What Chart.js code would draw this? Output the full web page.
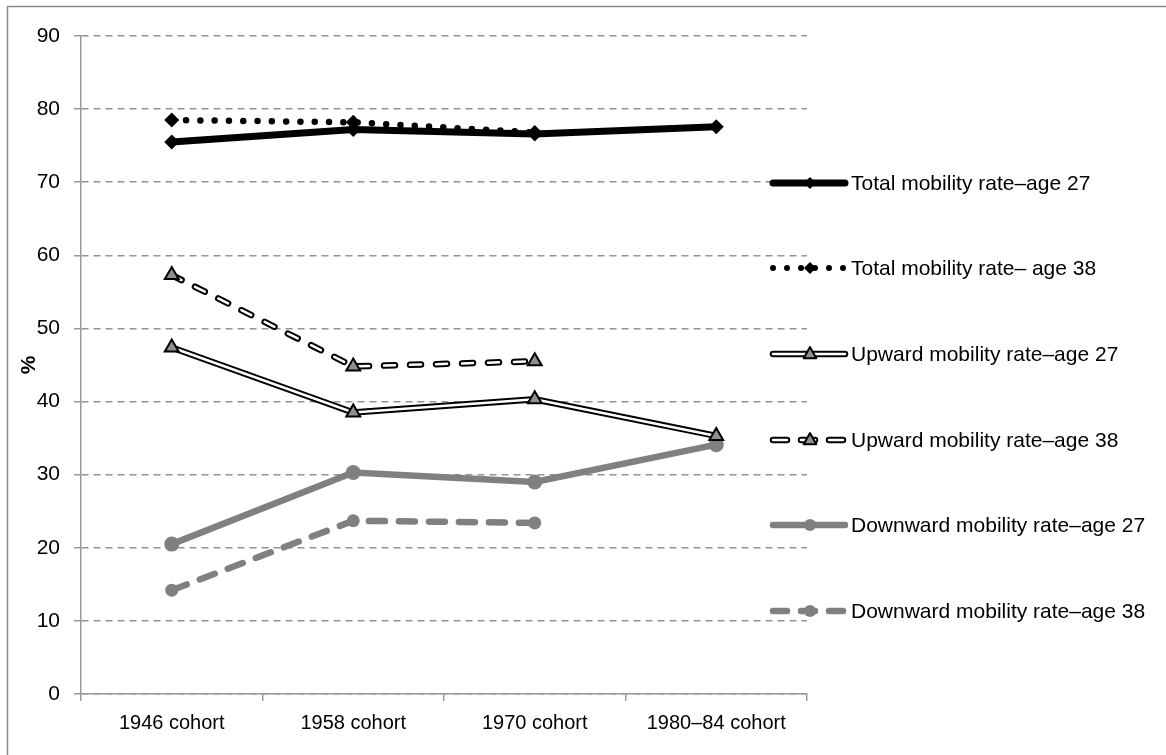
<!DOCTYPE html>
<html>
<head>
<meta charset="utf-8">
<script src="https://cdn.jsdelivr.net/npm/chart.js@4.4.1/dist/chart.umd.min.js"></script>
<style>
  html, body { margin: 0; padding: 0; background: #fff; }
  #wrap { position: relative; width: 1166px; height: 755px; }
</style>
</head>
<body>
<div id="wrap"><canvas id="chart" width="1166" height="755"></canvas></div>
<script>
const cohorts = ['1946 cohort', '1958 cohort', '1970 cohort', '1980\u201384 cohort'];
const yTicks = [0, 10, 20, 30, 40, 50, 60, 70, 80, 90];

const totalAge27 = [75.5, 77.2, 76.6, 77.6];
const totalAge38 = [78.5, 78.2, 76.8, null];
const upwardAge27 = [47.4, 38.5, 40.3, 35.3];
const upwardAge38 = [57.3, 44.8, 45.5, null];
const downwardAge27 = [20.5, 30.3, 29.0, 34.1];
const downwardAge38 = [14.2, 23.7, 23.4, null];

const legendLabels = [
  'Total mobility rate\u2013age 27',
  'Total mobility rate\u2013 age 38',
  'Upward mobility rate\u2013age 27',
  'Upward mobility rate\u2013age 38',
  'Downward mobility rate\u2013age 27',
  'Downward mobility rate\u2013age 38'
];

const GRAY = '#808080';
const TRI_FILL = '#8f8f8f';
const FONT = '"Liberation Sans", Arial, sans-serif';

// Excel-style legend, drawn by hand on the right
const sideLegend = {
  id: 'sideLegend',
  afterDraw(chart) {
    const ctx = chart.ctx;
    const x0 = 773, x1 = 845, xm = 810;
    const rows = [183, 268, 354, 440, 525, 611];
    ctx.save();
    ctx.lineJoin = 'round';

    function seg(y, color, width, dash, cap) {
      ctx.beginPath();
      ctx.setLineDash(dash || []);
      ctx.lineCap = cap || 'butt';
      ctx.strokeStyle = color;
      ctx.lineWidth = width;
      ctx.moveTo(x0, y);
      ctx.lineTo(x1, y);
      ctx.stroke();
      ctx.setLineDash([]);
    }
    function diamond(y, r) {
      ctx.beginPath();
      ctx.moveTo(xm, y - r); ctx.lineTo(xm + r, y); ctx.lineTo(xm, y + r); ctx.lineTo(xm - r, y);
      ctx.closePath();
      ctx.fillStyle = '#000';
      ctx.fill();
    }
    function tri(y, r) {
      ctx.beginPath();
      ctx.moveTo(xm, y - r); ctx.lineTo(xm + r * 0.9, y + r * 0.6); ctx.lineTo(xm - r * 0.9, y + r * 0.6);
      ctx.closePath();
      ctx.fillStyle = TRI_FILL;
      ctx.fill();
      ctx.lineWidth = 2;
      ctx.strokeStyle = '#000';
      ctx.stroke();
    }
    function dot(y, r) {
      ctx.beginPath();
      ctx.arc(xm, y, r, 0, Math.PI * 2);
      ctx.fillStyle = GRAY;
      ctx.fill();
    }

    seg(rows[0], '#000', 7, [], 'round'); diamond(rows[0], 6);
    seg(rows[1], '#000', 6, [0, 14], 'round'); diamond(rows[1], 6);
    seg(rows[2], '#000', 6.5, [], 'round'); seg(rows[2], '#fff', 2.5, [], 'round'); tri(rows[2], 7);
    seg(rows[3], '#000', 6.5, [14, 14], 'round'); seg(rows[3], '#fff', 2.5, [14, 14], 'round'); tri(rows[3], 7);
    seg(rows[4], GRAY, 6.5, [], 'round'); dot(rows[4], 6);
    seg(rows[5], GRAY, 6.5, [14, 14], 'round'); dot(rows[5], 6);

    ctx.fillStyle = '#000';
    ctx.font = '21px ' + FONT;
    ctx.textBaseline = 'middle';
    ctx.textAlign = 'left';
    legendLabels.forEach((t, i) => ctx.fillText(t, 851, rows[i] + 1));

    // outer frame (top and left edges of the chart box)
    ctx.strokeStyle = '#8a8a8a';
    ctx.lineWidth = 1.5;
    ctx.beginPath();
    ctx.moveTo(7.5, 755);
    ctx.lineTo(7.5, 6.5);
    ctx.lineTo(1166, 6.5);
    ctx.stroke();
    ctx.restore();
  }
};

new Chart(document.getElementById('chart'), {
  type: 'line',
  data: {
    labels: cohorts,
    datasets: [
      {
        label: legendLabels[0], data: totalAge27, order: 1,
        borderColor: '#000', borderWidth: 7, borderCapStyle: 'round',
        pointStyle: 'rectRot', pointRadius: 7.5, pointBackgroundColor: '#000', pointBorderColor: '#000', pointBorderWidth: 0
      },
      {
        label: legendLabels[1], data: totalAge38, order: 2,
        borderColor: '#000', borderWidth: 6.5, borderDash: [0, 14.3], borderCapStyle: 'round',
        pointStyle: 'rectRot', pointRadius: 7.5, pointBackgroundColor: '#000', pointBorderColor: '#000', pointBorderWidth: 0
      },
      {
        label: legendLabels[2] + ' outline', data: upwardAge27, order: 6,
        borderColor: '#000', borderWidth: 6.5, pointRadius: 0
      },
      {
        label: legendLabels[2], data: upwardAge27, order: 5,
        borderColor: '#fff', borderWidth: 2.5,
        pointStyle: 'triangle', pointRadius: 8, pointBackgroundColor: TRI_FILL, pointBorderColor: '#000', pointBorderWidth: 2
      },
      {
        label: legendLabels[3] + ' outline', data: upwardAge38, order: 4,
        borderColor: '#000', borderWidth: 6.5, borderDash: [11, 15], borderCapStyle: 'round', pointRadius: 0
      },
      {
        label: legendLabels[3], data: upwardAge38, order: 3,
        borderColor: '#fff', borderWidth: 2.5, borderDash: [11, 15], borderCapStyle: 'round',
        pointStyle: 'triangle', pointRadius: 8, pointBackgroundColor: TRI_FILL, pointBorderColor: '#000', pointBorderWidth: 2
      },
      {
        label: legendLabels[4], data: downwardAge27, order: 7,
        borderColor: GRAY, borderWidth: 6.5,
        pointStyle: 'circle', pointRadius: 7.5, pointBackgroundColor: GRAY, pointBorderColor: GRAY, pointBorderWidth: 0
      },
      {
        label: legendLabels[5], data: downwardAge38, order: 8,
        borderColor: GRAY, borderWidth: 6.5, borderDash: [16, 14], borderCapStyle: 'round',
        pointStyle: 'circle', pointRadius: 6.5, pointBackgroundColor: GRAY, pointBorderColor: GRAY, pointBorderWidth: 0
      }
    ]
  },
  options: {
    responsive: false,
    animation: false,
    spanGaps: false,
    tension: 0,
    layout: { padding: { top: 36, right: 359, left: 0, bottom: 0 } },
    plugins: {
      legend: { display: false },
      tooltip: { enabled: false }
    },
    scales: {
      x: {
        offset: true,
        grid: {
          offset: true, drawOnChartArea: false, drawTicks: true,
          tickLength: 7, tickColor: '#999', lineWidth: 1.5
        },
        border: { color: '#999', width: 1.5 },
        ticks: {
          color: '#000', padding: 10,
          font: { family: FONT, size: 20 }
        },
        afterFit(scale) { scale.height = 61; }
      },
      y: {
        min: 0, max: 90,
        afterBuildTicks(scale) { scale.ticks = yTicks.map(v => ({ value: v })); },
        grid: {
          color: '#949494', lineWidth: 1.5,
          drawTicks: true, tickLength: 7, tickColor: '#999', tickBorderDash: []
        },
        border: { color: '#999', width: 1.5, dash: [7, 5] },
        ticks: {
          color: '#000', padding: 14,
          font: { family: FONT, size: 21 }
        },
        title: {
          display: true, text: '%', color: '#000', padding: { top: 17, bottom: 0 },
          font: { family: FONT, size: 21, weight: 'bold' }
        },
        afterFit(scale) { scale.width = 81; }
      }
    }
  },
  plugins: [sideLegend]
});
</script>
</body>
</html>
